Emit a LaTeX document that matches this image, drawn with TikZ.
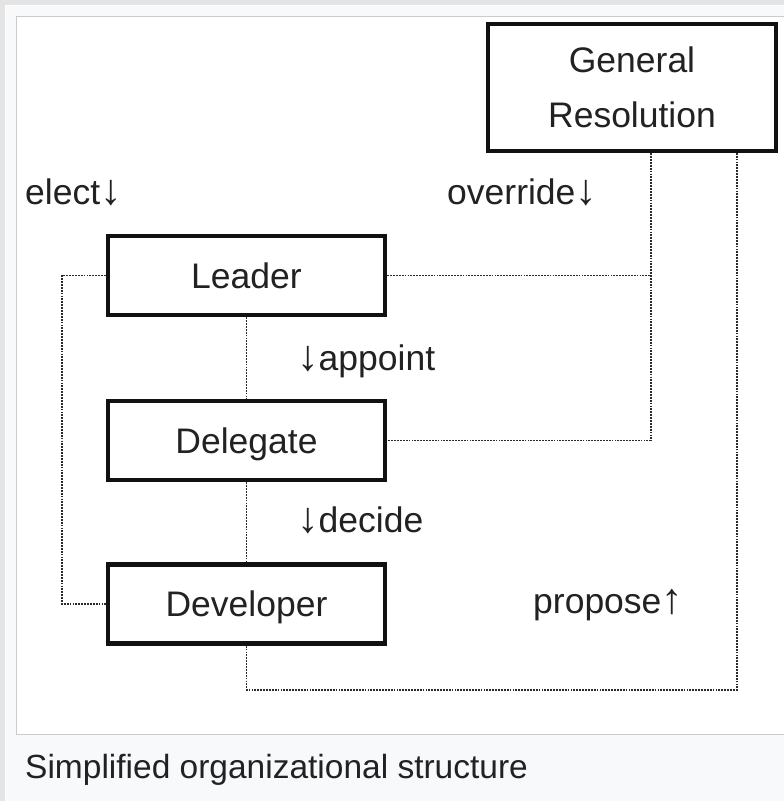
\documentclass[tikz,border=0pt]{standalone}
\usepackage{fontspec}
\setmainfont{Liberation Sans}
\definecolor{outerbg}{HTML}{E4E4E4}
\definecolor{thumbbg}{HTML}{F8F9FA}
\definecolor{frameline}{HTML}{C8CCD1}
\definecolor{ink}{HTML}{222222}
\definecolor{boxline}{HTML}{111111}
\definecolor{linkgray}{HTML}{2A2A2A}
% heavier arrow glyphs for the relation labels
\newcommand\dnarr{{\bfseries\fontsize{43}{45}\selectfont ↓}}
\newcommand\uparr{{\bfseries\fontsize{43}{45}\selectfont ↑}}
\begin{document}
\begin{tikzpicture}[x=1pt,y=-1pt,
  box/.style={draw=boxline, line width=4.5pt, minimum width=277pt, minimum height=79pt,
    inner sep=0pt, text height=25.4pt, text depth=0pt, text=ink,
    font=\fontsize{35.5}{55}\selectfont},
  link/.style={draw=linkgray, line width=1.8pt, dash pattern=on 1.8pt off 1.1pt},
  lbl/.style={anchor=base west, inner sep=0pt, text=ink, font=\fontsize{35.5}{42}\selectfont},
  caption/.style={anchor=base west, inner sep=0pt, text=ink, font=\fontsize{33.5}{40}\selectfont},
]
\useasboundingbox (0,0) rectangle (784,801);

% thumbnail frame and caption panel
\fill[outerbg] (0,0) rectangle (784,801);
\fill[thumbbg] (5,5) rectangle (790,810);
\draw[white, line width=1pt] (5.5,810) -- (5.5,5.5) -- (790,5.5);
\filldraw[fill=white, draw=frameline, line width=1pt] (16,16) rectangle (800,734);

% organisation boxes
\node[box] (leader) at (246.5,275.5) {Leader};
\node[box] (delegate) at (246.5,440.5) {Delegate};
\node[box] (developer) at (246.5,604) {Developer};
\node[box, minimum width=288pt, minimum height=127pt, align=center, text height=80.4pt]
  (gr) at (632,87.5) {General\\Resolution};

% routing points for the dotted connectors
\coordinate (loopL) at (62,0);
\coordinate (ovr) at (651,0);
\coordinate (prop) at (737,690);

% dotted connectors
\draw[link] (leader.south) -- (delegate.north);
\draw[link] (delegate.south) -- (developer.north);
\draw[link] (leader.west) -| (loopL |- developer.west) -- (developer.west);
\draw[link] (leader.east) -- (ovr |- leader.east);
\draw[link] (ovr |- gr.south) |- (delegate.east);
\draw[link] (developer.south) |- (prop) -- (prop |- gr.south);

% relation labels
\node[lbl] (elect) at (25,204) {elect\dnarr};
\node[lbl] (override) at (447,204) {override\dnarr};
\node[lbl] (appoint) at (297,370) {\dnarr appoint};
\node[lbl] (decide) at (297,532) {\dnarr decide};
\node[lbl] (propose) at (533,613) {propose\uparr};

% caption
\node[caption] (cap) at (25,778) {Simplified organizational structure};
\end{tikzpicture}
\end{document}
